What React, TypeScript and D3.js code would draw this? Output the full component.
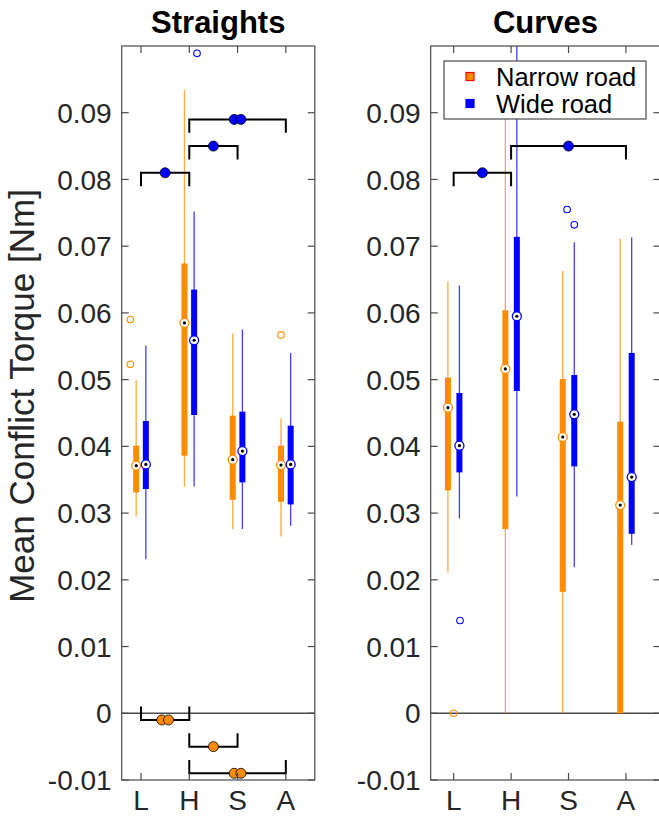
import React from "react";
import * as d3 from "d3";

// ---------- data ----------
const categories = ["L", "H", "S", "A"];
const seriesNames = ["Narrow road", "Wide road"];
const panelTitles = ["Straights", "Curves"];
const yTicks = [-0.01, 0, 0.01, 0.02, 0.03, 0.04, 0.05, 0.06, 0.07, 0.08, 0.09];

// box stats: [whiskerLow, q1, median, q3, whiskerHigh]
const straightsNarrow = [
  [0.0295, 0.0331, 0.0371, 0.0401, 0.0499],
  [0.034, 0.0386, 0.0585, 0.0674, 0.0934],
  [0.0276, 0.032, 0.038, 0.0446, 0.0569],
  [0.0265, 0.0317, 0.0372, 0.0401, 0.0442],
];
const straightsWide = [
  [0.0231, 0.0336, 0.0373, 0.0438, 0.0551],
  [0.034, 0.0447, 0.0559, 0.0635, 0.0752],
  [0.0276, 0.0346, 0.0393, 0.0452, 0.0575],
  [0.0281, 0.0313, 0.0373, 0.0431, 0.054],
];
const curvesNarrow = [
  [0.0211, 0.0334, 0.0458, 0.0503, 0.0647],
  [0.0, 0.0276, 0.0516, 0.0604, 0.095],
  [0.0, 0.0182, 0.0414, 0.0501, 0.0663],
  [0.0, 0.0, 0.0312, 0.0437, 0.0711],
];
const curvesWide = [
  [0.0292, 0.0361, 0.0401, 0.048, 0.0641],
  [0.0325, 0.0483, 0.0595, 0.0714, 0.105],
  [0.0219, 0.037, 0.0448, 0.0507, 0.0706],
  [0.0252, 0.0269, 0.0354, 0.054, 0.0713],
];

// outliers: [categoryIndex, value, jitter]
const straightsNarrowOut = [[0, 0.059, -0.12], [0, 0.0523, -0.12], [3, 0.0567, 0]];
const straightsWideOut = [[1, 0.0989, 0.06]];
const curvesNarrowOut = [[0, 0.0, 0.1]];
const curvesWideOut = [[0, 0.0139, 0.01], [2, 0.0755, -0.125], [2, 0.0732, 0]];

// significance brackets: [fromCat, toCat, yValue, seriesIndex, nDots]
const straightsBrackets = [
  [0, 1, 0.081, 1, 1],
  [1, 2, 0.085, 1, 1],
  [1, 3, 0.089, 1, 2],
  [0, 1, -0.001, 0, 2],
  [1, 2, -0.005, 0, 1],
  [1, 3, -0.009, 0, 2],
];
const curvesBrackets = [
  [0, 1, 0.081, 1, 1],
  [1, 3, 0.085, 1, 1],
];

// ---------- style ----------
const ORANGE = "#FF8C00";
const BLUE = "#0000FF";
const colors = [ORANGE, BLUE];
const AXIS = "#4a4a4a";
const FONT = "'Liberation Sans', Arial, Helvetica, sans-serif";

const W = 659;
const H = 816;
const TOP = 46;
const BOTTOM = 780;

const panels = [
  { x0: 121.7, x1: 314.8, boxes: [straightsNarrow, straightsWide], outs: [straightsNarrowOut, straightsWideOut], brackets: straightsBrackets, legend: false },
  { x0: 430.7, x1: 660.4, boxes: [curvesNarrow, curvesWide], outs: [curvesNarrowOut, curvesWideOut], brackets: curvesBrackets, legend: true },
];

const y = d3.scaleLinear().domain([-0.01, 0.1]).range([BOTTOM, TOP]);

function Panel({ p, idx }: any) {
  const x = d3.scaleLinear().domain([0.6, 4.6]).range([p.x0, p.x1]);
  const clipId = `clip${idx}`;
  const off = 0.1;
  const tick = 7;
  return (
    <g>
      <defs>
        <clipPath id={clipId}>
          <rect x={p.x0} y={TOP} width={p.x1 - p.x0} height={BOTTOM - TOP} />
        </clipPath>
      </defs>
      {/* zero line */}
      <line x1={p.x0} x2={p.x1} y1={y(0)} y2={y(0)} stroke={AXIS} strokeWidth={1.5} />
      <g clipPath={`url(#${clipId})`}>
        {p.boxes.map((set: number[][], s: number) =>
          set.map((b, c) => {
            const cx = x(c + 1 + (s === 0 ? -off : off));
            return (
              <g key={`b${s}${c}`}>
                <line x1={cx} x2={cx} y1={y(b[0])} y2={y(b[4])} stroke={colors[s]} strokeWidth={1.3} strokeOpacity={0.75} />
                <rect x={cx - 3} y={y(b[3])} width={6} height={Math.max(0, y(b[1]) - y(b[3]))} fill={colors[s]} />
              </g>
            );
          })
        )}
        {p.boxes.map((set: number[][], s: number) =>
          set.map((b, c) => {
            const cx = x(c + 1 + (s === 0 ? -off : off));
            return (
              <g key={`m${s}${c}`}>
                <circle cx={cx} cy={y(b[2])} r={4.5} fill="white" stroke={colors[s]} strokeWidth={1.3} />
                <circle cx={cx} cy={y(b[2])} r={1.6} fill="black" />
              </g>
            );
          })
        )}
        {p.outs.map((set: number[][], s: number) =>
          set.map((o, k) => (
            <circle key={`o${s}${k}`} cx={x(o[0] + 1 + (s === 0 ? -off : off) + o[2])} cy={y(o[1])} r={3.3} fill="none" stroke={colors[s]} strokeWidth={1.1} />
          ))
        )}
      </g>
      {/* brackets */}
      {p.brackets.map((br: number[], k: number) => {
        const xa = x(br[0] + 1);
        const xb = x(br[1] + 1);
        const yy = y(br[2]);
        const dir = br[3] === 1 ? 1 : -1;
        const leg = y(br[2]) - y(br[2] + 0.002);
        const mid = (br[0] + br[1]) / 2 + 1;
        const dots = br[4] === 2 ? [mid - 0.07, mid + 0.07] : [mid];
        return (
          <g key={`br${k}`}>
            <path d={`M${xa},${yy + dir * leg}V${yy}H${xb}V${yy + dir * leg}`} fill="none" stroke="black" strokeWidth={2} />
            {dots.map((d, j) => (
              <circle key={j} cx={x(d)} cy={yy} r={5} fill={colors[br[3]]} stroke="black" strokeWidth={0.8} />
            ))}
          </g>
        );
      })}
      {/* frame */}
      <rect x={p.x0} y={TOP} width={p.x1 - p.x0} height={BOTTOM - TOP} fill="none" stroke={AXIS} strokeWidth={1.2} />
      {yTicks.map((t) => (
        <g key={`yt${t}`}>
          <line x1={p.x0} x2={p.x0 + tick} y1={y(t)} y2={y(t)} stroke={AXIS} strokeWidth={1.2} />
          <line x1={p.x1} x2={p.x1 - tick} y1={y(t)} y2={y(t)} stroke={AXIS} strokeWidth={1.2} />
          <text x={p.x0 - 10} y={y(t)} dy="0.36em" textAnchor="end" fontSize={28} fill="#262626" fontFamily={FONT}>
            {String(t)}
          </text>
        </g>
      ))}
      {categories.map((c, i) => (
        <g key={`xt${c}`}>
          <line x1={x(i + 1)} x2={x(i + 1)} y1={BOTTOM} y2={BOTTOM - tick} stroke={AXIS} strokeWidth={1.2} />
          <line x1={x(i + 1)} x2={x(i + 1)} y1={TOP} y2={TOP + tick} stroke={AXIS} strokeWidth={1.2} />
          <text x={x(i + 1)} y={810} textAnchor="middle" fontSize={28} fill="#262626" fontFamily={FONT}>
            {c}
          </text>
        </g>
      ))}
      <text x={(p.x0 + p.x1) / 2} y={33} textAnchor="middle" fontSize={31} fontWeight="bold" fill="black" fontFamily={FONT}>
        {panelTitles[idx]}
      </text>
      {p.legend && (
        <g>
          <rect x={444} y={61} width={202} height={58} fill="white" stroke={AXIS} strokeWidth={1.2} />
          {seriesNames.map((n, s) => (
            <g key={n}>
              <rect x={466} y={(s === 0 ? 76.5 : 103.5) - 4} width={8} height={8} fill={colors[s]} stroke={s === 0 ? "#FF0000" : BLUE} strokeWidth={1.2} />
              <text x={496} y={s === 0 ? 76.5 : 103.5} dy="0.36em" fontSize={25.5} fill="black" fontFamily={FONT}>
                {n}
              </text>
            </g>
          ))}
        </g>
      )}
    </g>
  );
}

export default function App() {
  return (
    <svg width={W} height={H} style={{ position: "absolute", left: 0, top: 0, background: "white" }}>
      <rect width={W} height={H} fill="white" />
      {panels.map((p, i) => (
        <Panel key={i} p={p} idx={i} />
      ))}
      <text transform={`translate(34,396) rotate(-90)`} textAnchor="middle" fontSize={35} fill="#262626" fontFamily={FONT}>
        Mean Conflict Torque [Nm]
      </text>
    </svg>
  );
}
